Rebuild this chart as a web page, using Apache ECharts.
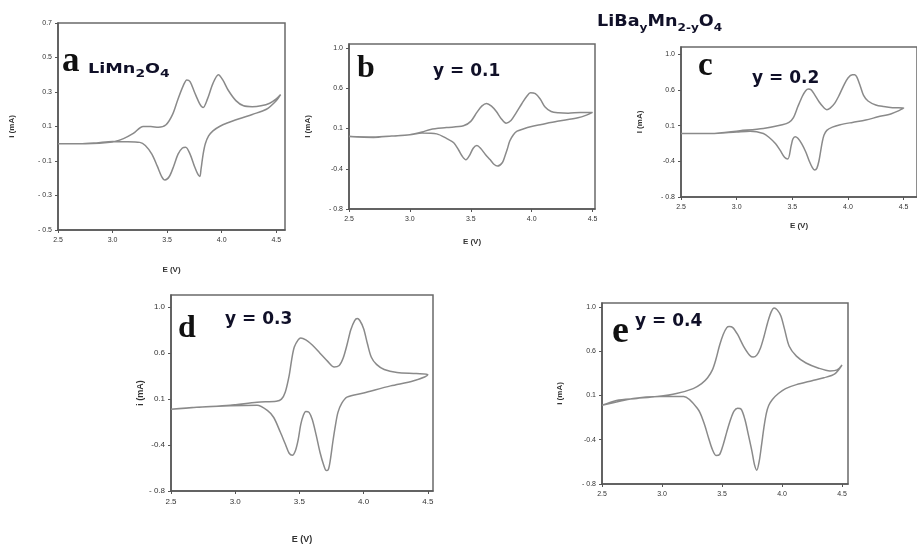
<!DOCTYPE html>
<html>
<head>
<meta charset="utf-8">
<script src="https://cdn.jsdelivr.net/npm/echarts@6/dist/echarts.min.js"></script>
<style>
  html, body { margin: 0; padding: 0; background: #fff; }
  #main { width: 917px; height: 545px; }
</style>
</head>
<body>
<div id="main"></div>
<script>
// tick labels
var xTicks = [2.5, 3.0, 3.5, 4.0, 4.5];
var yTicksA = [-0.5, -0.3, -0.1, 0.1, 0.3, 0.5, 0.7];
var yLabelsA = ['- 0.5', '- 0.3', '- 0.1', '0.1', '0.3', '0.5', '0.7'];
var yTicksB = [-0.8, -0.35, 0.1, 0.55, 1.0];
var yLabelsB = ['- 0.8', '-0.4', '0.1', '0.6', '1.0'];

// (a) LiMn2O4
var E_a_up = [2.50,2.75,3.00,3.10,3.19,3.28,3.35,3.42,3.49,3.55,3.60,3.65,3.68,3.71,3.75,3.80,3.83,3.87,3.92,3.97,4.01,4.06,4.13,4.20,4.28,4.36,4.44,4.50,4.54];
var I_a_up = [0.00,0.00,0.01,0.03,0.06,0.10,0.10,0.095,0.11,0.17,0.26,0.34,0.37,0.36,0.30,0.23,0.21,0.26,0.35,0.40,0.37,0.31,0.25,0.22,0.215,0.22,0.235,0.26,0.285];
var E_a_dn = [4.54,4.50,4.41,4.28,4.16,4.05,3.98,3.92,3.88,3.85,3.83,3.81,3.80,3.78,3.75,3.71,3.67,3.64,3.60,3.56,3.52,3.48,3.45,3.41,3.36,3.30,3.25,3.10,3.00,2.85,2.70,2.50];
var I_a_dn = [0.285,0.25,0.20,0.17,0.145,0.12,0.10,0.075,0.045,0.00,-0.06,-0.15,-0.19,-0.175,-0.13,-0.06,-0.02,-0.025,-0.06,-0.13,-0.19,-0.21,-0.19,-0.13,-0.06,-0.01,0.008,0.012,0.013,0.005,0.0,0.0];

// (b) y = 0.1
var E_b_up = [2.50,2.70,2.85,3.00,3.10,3.17,3.30,3.44,3.50,3.55,3.59,3.63,3.67,3.71,3.75,3.79,3.83,3.87,3.92,3.96,3.99,4.03,4.07,4.11,4.16,4.22,4.30,4.40,4.50];
var I_b_up = [0.01,0.005,0.015,0.03,0.06,0.09,0.11,0.13,0.18,0.28,0.35,0.38,0.35,0.29,0.21,0.16,0.19,0.27,0.38,0.46,0.50,0.49,0.43,0.34,0.29,0.275,0.27,0.28,0.28];
var E_b_dn = [4.50,4.45,4.38,4.21,4.08,3.99,3.93,3.88,3.85,3.82,3.80,3.78,3.76,3.72,3.69,3.66,3.62,3.58,3.55,3.52,3.49,3.46,3.43,3.40,3.36,3.30,3.22,3.10,3.00,2.85,2.70,2.50];
var I_b_dn = [0.28,0.25,0.22,0.18,0.145,0.12,0.095,0.07,0.03,-0.04,-0.13,-0.21,-0.28,-0.32,-0.30,-0.25,-0.19,-0.12,-0.09,-0.12,-0.20,-0.25,-0.21,-0.14,-0.06,-0.01,0.04,0.05,0.03,0.015,0.0,0.01];

// (c) y = 0.2
var E_c_up = [2.50,2.77,3.03,3.24,3.41,3.47,3.51,3.55,3.59,3.62,3.645,3.67,3.70,3.74,3.78,3.81,3.84,3.88,3.92,3.96,4.00,4.04,4.06,4.08,4.11,4.14,4.18,4.25,4.32,4.40,4.50];
var I_c_up = [0.00,0.00,0.035,0.064,0.11,0.14,0.20,0.34,0.47,0.54,0.56,0.55,0.49,0.40,0.33,0.30,0.32,0.38,0.48,0.60,0.70,0.74,0.74,0.71,0.60,0.48,0.41,0.36,0.34,0.325,0.32];
var E_c_dn = [4.50,4.39,4.27,4.16,4.04,3.93,3.86,3.81,3.785,3.77,3.755,3.74,3.72,3.70,3.68,3.65,3.62,3.585,3.55,3.525,3.505,3.49,3.46,3.43,3.39,3.35,3.30,3.24,3.12,3.00,2.77,2.50];
var I_c_dn = [0.32,0.25,0.21,0.17,0.14,0.11,0.08,0.04,-0.02,-0.10,-0.22,-0.34,-0.44,-0.46,-0.43,-0.34,-0.23,-0.13,-0.06,-0.04,-0.07,-0.15,-0.32,-0.30,-0.21,-0.13,-0.06,0.00,0.03,0.02,0.00,0.00];

// (d) y = 0.3
var E_d_up = [2.50,2.70,2.96,3.17,3.32,3.36,3.39,3.42,3.44,3.46,3.49,3.51,3.55,3.60,3.66,3.72,3.77,3.81,3.84,3.87,3.90,3.93,3.95,3.97,4.00,4.03,4.06,4.10,4.16,4.26,4.41,4.50];
var I_d_up = [0.00,0.02,0.04,0.07,0.08,0.10,0.17,0.33,0.49,0.61,0.68,0.70,0.68,0.63,0.55,0.47,0.415,0.43,0.50,0.63,0.78,0.87,0.89,0.87,0.79,0.64,0.51,0.44,0.39,0.36,0.35,0.34];
var E_d_dn = [4.50,4.39,4.21,4.00,3.87,3.83,3.80,3.78,3.76,3.74,3.725,3.71,3.69,3.66,3.63,3.60,3.575,3.55,3.53,3.51,3.49,3.47,3.445,3.42,3.39,3.35,3.30,3.25,3.17,2.96,2.70,2.50];
var I_d_dn = [0.34,0.28,0.23,0.16,0.12,0.06,-0.03,-0.16,-0.32,-0.50,-0.59,-0.60,-0.55,-0.42,-0.25,-0.10,-0.03,-0.02,-0.06,-0.15,-0.30,-0.40,-0.45,-0.43,-0.34,-0.22,-0.08,-0.01,0.04,0.035,0.02,0.00];

// (e) y = 0.4
var E_e_up = [2.50,2.62,2.79,2.96,3.12,3.26,3.33,3.38,3.42,3.45,3.48,3.51,3.54,3.56,3.59,3.63,3.68,3.73,3.76,3.79,3.82,3.85,3.88,3.91,3.935,3.96,3.99,4.02,4.06,4.12,4.20,4.30,4.40,4.46,4.50];
var I_e_up = [0.00,0.05,0.07,0.09,0.12,0.17,0.22,0.28,0.36,0.47,0.61,0.72,0.79,0.80,0.79,0.72,0.60,0.51,0.49,0.51,0.58,0.70,0.84,0.95,0.99,0.97,0.91,0.78,0.60,0.50,0.43,0.38,0.35,0.36,0.41];
var E_e_dn = [4.50,4.44,4.35,4.25,4.12,4.03,3.97,3.92,3.89,3.87,3.85,3.83,3.81,3.79,3.77,3.75,3.72,3.69,3.66,3.63,3.60,3.57,3.54,3.51,3.48,3.45,3.42,3.39,3.35,3.30,3.18,2.98,2.76,2.50];
var I_e_dn = [0.41,0.32,0.28,0.25,0.21,0.17,0.12,0.06,0.00,-0.08,-0.22,-0.40,-0.57,-0.66,-0.60,-0.47,-0.30,-0.14,-0.04,-0.03,-0.06,-0.15,-0.27,-0.40,-0.50,-0.51,-0.45,-0.34,-0.18,-0.04,0.09,0.09,0.07,0.00];

function loop(eu, iu, ed, id) {
  var out = [];
  for (var k = 0; k < eu.length; k++) out.push([eu[k], iu[k]]);
  for (var k = 0; k < ed.length; k++) out.push([ed[k], id[k]]);
  return out;
}

var panels = [
  { grid: {left: 58, top: 23, width: 227, height: 207}, xMax: 4.58, yMin: -0.5, yMax: 0.7,
    yTicks: yTicksA, yLabels: yLabelsA, yName: 'i (mA)', yGap: 42, xName: 'E (V)', xGap: 36, fs: 7,
    data: loop(E_a_up, I_a_up, E_a_dn, I_a_dn) },
  { grid: {left: 349, top: 44, width: 246, height: 165}, xMax: 4.52, yMin: -0.8, yMax: 1.045,
    yTicks: yTicksB, yLabels: yLabelsB, yName: 'I (mA)', yGap: 37, xName: 'E (V)', xGap: 29, fs: 7,
    data: loop(E_b_up, I_b_up, E_b_dn, I_b_dn) },
  { grid: {left: 681, top: 47, width: 245, height: 150}, xMax: 4.62, yMin: -0.8, yMax: 1.09,
    yTicks: yTicksB, yLabels: yLabelsB, yName: 'I (mA)', yGap: 37, xName: 'E (V)', xGap: 25, fs: 7,
    data: loop(E_c_up, I_c_up, E_c_dn, I_c_dn) },
  { grid: {left: 171, top: 295, width: 262, height: 198}, xMax: 4.54, yMin: -0.8, yMax: 1.12,
    yTicks: yTicksB, yLabels: yLabelsB, yName: 'i (mA)', yGap: 24, xName: 'E (V)', xGap: 44, fs: 8,
    data: loop(E_d_up, I_d_up, E_d_dn, I_d_dn) },
  { grid: {left: 602, top: 303, width: 246, height: 181}, xMax: 4.55, yMin: -0.8, yMax: 1.04,
    yTicks: yTicksB, yLabels: yLabelsB, yName: 'i (mA)', yGap: 38, xName: '', xGap: 30, fs: 7,
    data: loop(E_e_up, I_e_up, E_e_dn, I_e_dn) }
];

var axisColor = '#555';
var grids = [], xAxes = [], yAxes = [], series = [];
panels.forEach(function (p, n) {
  grids.push(Object.assign({show: true, borderColor: '#6a6a6a', borderWidth: 1.5}, p.grid));
  xAxes.push({
    type: 'value', gridIndex: n, min: 2.5, max: p.xMax,
    axisLine: {show: true, onZero: false, lineStyle: {color: axisColor, width: 1.5}},
    axisTick: {show: true, length: 3, customValues: xTicks, lineStyle: {color: axisColor}},
    axisLabel: {customValues: xTicks, fontSize: p.fs, color: '#333', margin: 7,
      fontFamily: 'Liberation Sans', formatter: function (v) { return v.toFixed(1); }},
    splitLine: {show: false},
    name: p.xName, nameLocation: 'middle', nameGap: p.xGap,
    nameTextStyle: {fontSize: p.fs + 1, fontWeight: 'bold', color: '#333', fontFamily: 'Liberation Sans'}
  });
  yAxes.push({
    type: 'value', gridIndex: n, min: p.yMin, max: p.yMax,
    axisLine: {show: true, onZero: false, lineStyle: {color: axisColor, width: 1.5}},
    axisTick: {show: true, length: 3, customValues: p.yTicks, lineStyle: {color: axisColor}},
    axisLabel: {customValues: p.yTicks, fontSize: p.fs, color: '#333', margin: 6,
      fontFamily: 'Liberation Sans',
      formatter: function (v) {
        for (var k = 0; k < p.yTicks.length; k++) {
          if (Math.abs(p.yTicks[k] - v) < 1e-6) return p.yLabels[k];
        }
        return '';
      }},
    splitLine: {show: false},
    name: p.yName, nameLocation: 'middle', nameGap: p.yGap, nameRotate: 90,
    nameTextStyle: {fontSize: p.fs + 1, fontWeight: 'bold', color: '#333', fontFamily: 'Liberation Sans'}
  });
  series.push({
    type: 'line', xAxisIndex: n, yAxisIndex: n, data: p.data,
    smooth: 0.3, showSymbol: false, symbol: 'none', clip: true,
    lineStyle: {color: '#8a8a8a', width: 1.5}
  });
});

var labelColor = '#101028';
function richFor(fs, subFs, lh) {
  return {
    b: {fontSize: fs, fontWeight: 'bold', fontFamily: 'DejaVu Sans', fill: labelColor, lineHeight: lh, verticalAlign: 'middle'},
    s: {fontSize: subFs, fontWeight: 'bold', fontFamily: 'DejaVu Sans', fill: labelColor, lineHeight: lh, verticalAlign: 'bottom'}
  };
}

function letter(t, x, y, fs) {
  return {type: 'text', x: x, y: y, style: {text: t, font: 'bold ' + fs + 'px "Liberation Serif", serif', fill: '#111'}};
}
function yLabel(t, x, y) {
  return {type: 'text', x: x, y: y, style: {text: t, font: 'bold 17px "DejaVu Sans", sans-serif', fill: labelColor}};
}

var chart = echarts.init(document.getElementById('main'), null, {renderer: 'canvas'});
chart.setOption({
  animation: false,
  backgroundColor: '#fff',
  grid: grids,
  xAxis: xAxes,
  yAxis: yAxes,
  series: series,
  graphic: [
    letter('a', 62, 44, 35),
    {type: 'text', x: 88, y: 58, scaleX: 1.26, style: {text: '{b|LiMn}{s|2}{b|O}{s|4}', rich: richFor(14, 11, 22)}},
    {type: 'text', x: 597, y: 10, scaleX: 1.1, style: {text: '{b|LiBa}{s|y}{b|Mn}{s|2-y}{b|O}{s|4}', rich: richFor(16, 11, 24)}},
    letter('b', 357, 53, 32),
    yLabel('y = 0.1', 433, 63),
    letter('c', 698, 50, 33),
    yLabel('y = 0.2', 752, 70),
    letter('d', 178, 313, 32),
    yLabel('y = 0.3', 225, 311),
    letter('e', 612, 313, 38),
    yLabel('y = 0.4', 635, 313)
  ]
});
</script>
</body>
</html>
